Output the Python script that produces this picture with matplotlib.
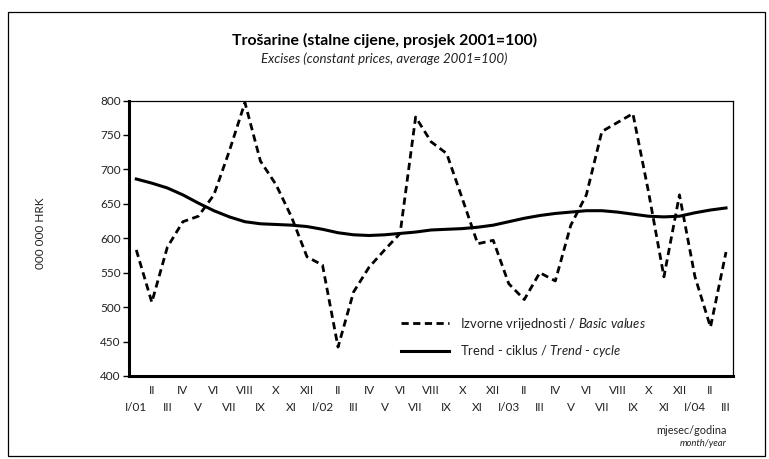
import matplotlib
matplotlib.use("Agg")
import matplotlib.pyplot as plt
from matplotlib.patches import Rectangle

plt.rcParams['font.family'] = ['Lato', 'DejaVu Sans']
plt.rcParams['mathtext.fontset'] = 'custom'
plt.rcParams['mathtext.rm'] = 'Lato'
plt.rcParams['mathtext.it'] = 'Lato:italic'

# ---- data ----
months = ["I/01", "II", "III", "IV", "V", "VI", "VII", "VIII", "IX", "X", "XI", "XII",
          "I/02", "II", "III", "IV", "V", "VI", "VII", "VIII", "IX", "X", "XI", "XII",
          "I/03", "II", "III", "IV", "V", "VI", "VII", "VIII", "IX", "X", "XI", "XII",
          "I/04", "II", "III"]
basic_values = [583, 507, 587, 624, 632, 663, 727, 797, 712, 678, 631, 573,
                561, 442, 522, 558, 583, 607, 776, 740, 723, 658, 592, 597,
                534, 511, 550, 538, 619, 663, 755, 768, 781, 668, 544, 663,
                544, 471, 580]
trend_cycle = [686, 680, 673, 663, 651, 640, 631, 624, 621, 620, 619, 617,
               613, 608, 605, 604, 605, 607, 609, 612, 613, 614, 616, 619,
               624, 629, 633, 636, 638, 640, 640, 638, 635, 632, 631, 632,
               637, 641, 644]
y_ticks = [400, 450, 500, 550, 600, 650, 700, 750, 800]

W, H = 769, 459
fig = plt.figure(figsize=(W / 100, H / 100), dpi=100)
ax = fig.add_axes([129 / W, 1 - 376 / H, (733 - 129) / W, (376 - 100.5) / H])

x = list(range(len(months)))
l1, = ax.plot(x, basic_values, color='black', lw=2.0, ls=(0, (2.6, 1.6)),
              label='Izvorne vrijednosti / $\\mathit{Basic\\ values}$')
l2, = ax.plot(x, trend_cycle, color='black', lw=2.2, solid_joinstyle='round',
              label='Trend - ciklus / $\\mathit{Trend}$ - $\\mathit{cycle}$')

ax.set_xlim(-0.47, 38.45)
ax.set_ylim(400, 800)
ax.set_yticks(y_ticks)
ax.set_yticklabels([str(v) for v in y_ticks], fontsize=8.5, color='#222222')
ax.tick_params(axis='y', length=4, width=1, pad=2)

# two-row x labels
major = [i for i in x if i % 2 == 0]
minor = [i for i in x if i % 2 == 1]
ax.set_xticks(major)
ax.set_xticklabels([months[i] for i in major], fontsize=8.5, color='#222222')
ax.set_xticks(minor, minor=True)
ax.set_xticklabels([months[i] for i in minor], minor=True, fontsize=8.5, color='#222222')
ax.tick_params(axis='x', which='major', length=0, pad=19)
ax.tick_params(axis='x', which='minor', length=0, pad=6.5)

for s in ['left', 'bottom']:
    ax.spines[s].set_linewidth(2.2)
for s in ['top', 'right']:
    ax.spines[s].set_linewidth(0.9)

leg = ax.legend(handles=[l1, l2], loc='upper left',
                bbox_to_anchor=((401 - 129) / 604, (376 - 316) / 275.5),
                frameon=False, fontsize=9.4, handlelength=3.7, handletextpad=0.8,
                labelspacing=0.85, borderaxespad=0, borderpad=0)
for t in leg.get_texts():
    t.set_color('#222222')

fig.text(0.5, 1 - 40 / H, 'Trošarine (stalne cijene, prosjek 2001=100)',
         ha='center', va='center', fontsize=11.4, fontweight='bold')
fig.text(0.5, 1 - 59 / H, 'Excises (constant prices, average 2001=100)',
         ha='center', va='center', fontsize=9.5, style='italic', color='#222222')
fig.text(40 / W, 1 - 233 / H, '000 000 HRK', rotation=90, ha='center', va='center',
         fontsize=8.5, color='#222222')
fig.text(727 / W, 1 - 430 / H, 'mjesec/godina', ha='right', va='center',
         fontsize=7.8, color='#222222')
fig.text(727 / W, 1 - 443 / H, 'month/year', ha='right', va='center',
         fontsize=6.8, style='italic', color='#222222')

fig.patches.append(Rectangle((8 / W, 1 - 456 / H), (765 - 8) / W, (456 - 12) / H,
                             transform=fig.transFigure, fill=False, lw=0.9,
                             edgecolor='black'))

fig.savefig('out.png', dpi=100)
